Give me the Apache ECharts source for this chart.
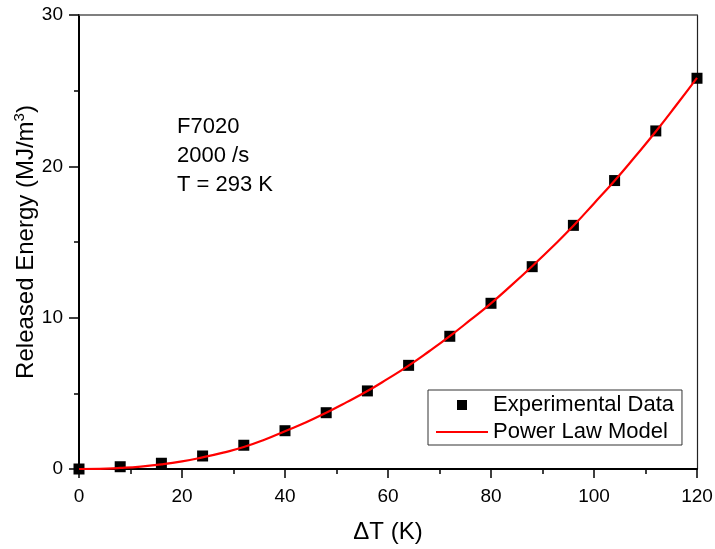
<!DOCTYPE html>
<html>
<head>
<meta charset="utf-8">
<script src="https://cdn.jsdelivr.net/npm/echarts@6/dist/echarts.min.js"></script>
<style>html,body{margin:0;padding:0;background:#fff}#c{width:715px;height:549px}</style>
</head>
<body>
<div id="c"></div>
<script>
// Experimental data (ΔT in K, released energy in MJ/m^3)
const expX = [0, 8, 16, 24, 32, 40, 48, 56, 64, 72, 80, 88, 96, 104, 112, 120];
const expY = [0, 0.15, 0.38, 0.86, 1.57, 2.53, 3.72, 5.16, 6.85, 8.77, 10.95, 13.37, 16.1, 19.06, 22.34, 25.82];
// Power law model curve
const modelX = [0, 4, 8, 12, 16, 20, 24, 28, 32, 36, 40, 44, 48, 52, 56, 60, 64, 68, 72, 76, 80, 84, 88, 92, 96, 100, 104, 108, 112, 116, 120];
const modelY = [0, 0.01, 0.07, 0.16, 0.3, 0.5, 0.77, 1.08, 1.45, 1.93, 2.5, 3.07, 3.72, 4.42, 5.15, 5.97, 6.83, 7.78, 8.78, 9.85, 10.95, 12.15, 13.4, 14.7, 16.07, 17.55, 19.05, 20.65, 22.3, 24.05, 25.85];
const xTicks = [0, 20, 40, 60, 80, 100, 120];
const yTicks = [0, 10, 20, 30];
const annotation = ['F7020', '2000 /s', 'T = 293 K'];

const FONT = 'Liberation Sans';
const chart = echarts.init(document.getElementById('c'));
chart.setOption({
  animation: false,
  backgroundColor: '#fff',
  textStyle: { fontFamily: FONT },
  grid: { left: 79, right: 18, top: 15, bottom: 80, containLabel: false, outerBoundsMode: 'none' },
  xAxis: [{
    type: 'value', min: xTicks[0], max: xTicks[xTicks.length - 1], interval: 20,
    name: 'ΔT (K)', nameLocation: 'middle', nameGap: 51, nameMoveOverlap: false,
    nameTextStyle: { fontSize: 24, color: '#000', fontFamily: FONT },
    axisLine: { show: true, onZero: false, lineStyle: { color: '#000', width: 2 } },
    axisTick: { show: true, length: 9, lineStyle: { color: '#000', width: 1.5 } },
    minorTick: { show: true, splitNumber: 2, length: 5, lineStyle: { color: '#000', width: 1.5 } },
    axisLabel: { fontSize: 19, color: '#000', margin: 18, fontFamily: FONT },
    splitLine: { show: false }
  }, {
    type: 'value', position: 'top', min: 0, max: 120,
    axisLine: { show: true, onZero: false, lineStyle: { color: '#555', width: 1.5 } },
    axisTick: { show: false }, axisLabel: { show: false }, splitLine: { show: false }
  }],
  yAxis: [{
    type: 'value', min: yTicks[0], max: yTicks[yTicks.length - 1], interval: 10,
    name: 'Released Energy (MJ/m{s|3})', nameLocation: 'middle', nameGap: 38, nameMoveOverlap: false,
    nameTextStyle: { fontSize: 24, color: '#000', fontFamily: FONT,
      rich: { s: { fontSize: 15, verticalAlign: 'top', padding: [0, 0, 14, 0], color: '#000', fontFamily: FONT } } },
    axisLine: { show: true, onZero: false, lineStyle: { color: '#000', width: 2 } },
    axisTick: { show: true, length: 10, lineStyle: { color: '#000', width: 1.5 } },
    minorTick: { show: true, splitNumber: 2, length: 5, lineStyle: { color: '#000', width: 1.5 } },
    axisLabel: { fontSize: 19, color: '#000', margin: 16, fontFamily: FONT },
    splitLine: { show: false }
  }, {
    type: 'value', position: 'right', min: 0, max: 30,
    axisLine: { show: true, onZero: false, lineStyle: { color: '#222', width: 1.2 } },
    axisTick: { show: false }, axisLabel: { show: false }, splitLine: { show: false }
  }],
  legend: {
    orient: 'vertical', left: 428, top: 390,
    padding: [4, 8, 2, 8], itemGap: 5, itemWidth: 52, itemHeight: 10,
    symbolKeepAspect: true,
    borderColor: '#333', borderWidth: 1,
    textStyle: { fontSize: 22, color: '#000', fontFamily: FONT },
    data: [
      { name: 'Experimental Data', icon: 'path://M0,0H10V10H0Z', itemStyle: { color: '#000', opacity: 1 } },
      { name: 'Power Law Model', icon: 'path://M0,0H52V2H0Z', itemStyle: { color: '#ff0000' } }
    ]
  },
  graphic: [{
    type: 'text', left: 177, top: 112, z: 10,
    style: { text: annotation.join('\n'), font: '22px "Liberation Sans"', lineHeight: 29, fill: '#000' }
  }],
  series: [{
    name: 'Power Law Model', type: 'line', smooth: true, symbol: 'none', z: 3,
    lineStyle: { color: '#ff0000', width: 2.2 }, itemStyle: { color: '#ff0000' },
    data: modelX.map((x, i) => [x, modelY[i]])
  }, {
    name: 'Experimental Data', type: 'scatter', symbol: 'rect', symbolSize: 11, z: 2,
    itemStyle: { color: '#000', opacity: 1 },
    data: expX.map((x, i) => [x, expY[i]])
  }]
});
</script>
</body>
</html>
